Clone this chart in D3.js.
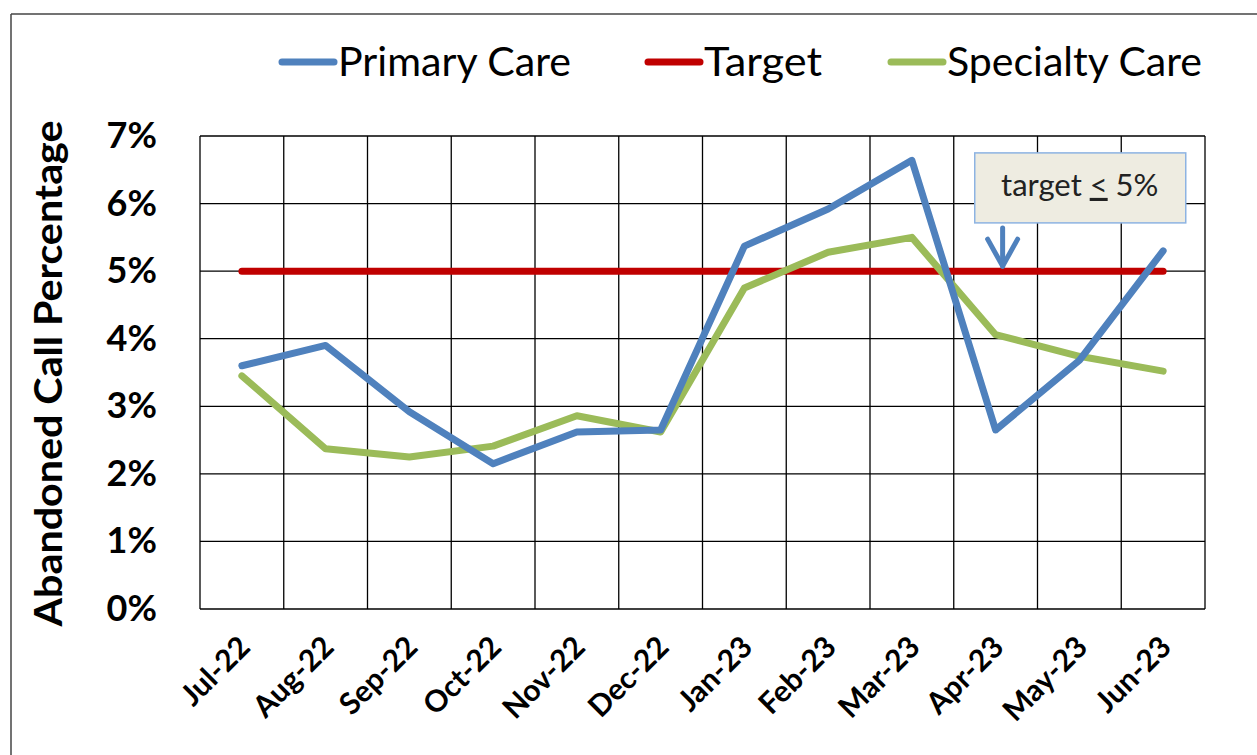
<!DOCTYPE html>
<html>
<head>
<meta charset="utf-8">
<script src="https://cdn.jsdelivr.net/npm/d3@7"></script>
<style>
  body { margin: 0; background: #fff; }
  svg { display: block; font-family: Lato, "Open Sans", sans-serif; }
</style>
</head>
<body>
<div id="chart"></div>
<script>
var months = ["Jul-22", "Aug-22", "Sep-22", "Oct-22", "Nov-22", "Dec-22",
              "Jan-23", "Feb-23", "Mar-23", "Apr-23", "May-23", "Jun-23"];
var primaryCare = [3.6, 3.9, 2.92, 2.15, 2.62, 2.65, 5.37, 5.92, 6.64, 2.65, 3.68, 5.3];
var specialtyCare = [3.45, 2.37, 2.25, 2.41, 2.86, 2.62, 4.75, 5.28, 5.5, 4.06, 3.74, 3.52];
var target = [5, 5, 5, 5, 5, 5, 5, 5, 5, 5, 5, 5];
var yTicks = [0, 1, 2, 3, 4, 5, 6, 7];

var W = 1257, H = 755;
var margin = {left: 200, top: 136, right: 52, bottom: 146};

var svg = d3.select("#chart").append("svg")
    .attr("width", W)
    .attr("height", H);

// outer chart frame (only top and left edges show)
svg.append("line").attr("x1", 11).attr("x2", W).attr("y1", 14).attr("y2", 14)
    .attr("stroke", "#444").attr("stroke-width", 1.5);
svg.append("line").attr("x1", 11).attr("x2", 11).attr("y1", 14).attr("y2", H)
    .attr("stroke", "#444").attr("stroke-width", 1.5);

var x = d3.scaleBand()
    .domain(months)
    .range([margin.left, W - margin.right]);
var y = d3.scaleLinear()
    .domain([0, 7])
    .range([H - margin.bottom, margin.top]);

var g = svg.append("g");

// grid
g.selectAll(".hgrid").data(yTicks).enter().append("line")
    .attr("x1", x.range()[0]).attr("x2", x.range()[1])
    .attr("y1", function (d) { return y(d); })
    .attr("y2", function (d) { return y(d); })
    .attr("stroke", "#000").attr("stroke-width", 1.3);
var vEdges = months.map(function (m) { return x(m); }).concat([x.range()[1]]);
g.selectAll(".vgrid").data(vEdges).enter().append("line")
    .attr("x1", function (d) { return d; }).attr("x2", function (d) { return d; })
    .attr("y1", y(0)).attr("y2", y(7))
    .attr("stroke", "#000").attr("stroke-width", 1.3);

// y axis labels
var yAxis = d3.axisLeft(y).tickValues(yTicks).tickSize(0).tickPadding(43)
    .tickFormat(function (d) { return d + "%"; });
var yg = svg.append("g").attr("transform", "translate(" + margin.left + ",0)").call(yAxis);
yg.select(".domain").remove();
yg.selectAll("text")
    .attr("font-family", "Lato, sans-serif")
    .attr("font-size", 36).attr("font-weight", "bold").attr("fill", "#000");

// x axis labels
var xg = svg.append("g");
xg.selectAll("text").data(months).enter().append("text")
    .attr("transform", function (d) {
        return "translate(" + (x(d) + x.bandwidth() / 2 + 10) + "," + (y(0) + 40) + ") rotate(-45)";
    })
    .attr("text-anchor", "end")
    .attr("font-size", 30).attr("font-weight", "bold")
    .text(function (d) { return d; });

// y title
svg.append("text")
    .attr("transform", "translate(62," + (y(3.5) + 1) + ") rotate(-90)")
    .attr("text-anchor", "middle")
    .attr("font-size", 38).attr("font-weight", "bold")
    .attr("textLength", 506).attr("lengthAdjust", "spacingAndGlyphs")
    .text("Abandoned Call Percentage");

// lines
var line = d3.line()
    .x(function (d, i) { return x(months[i]) + x.bandwidth() / 2; })
    .y(function (d) { return y(d); });

var series = [
    {name: "Primary Care", values: primaryCare, color: "#4F81BD"},
    {name: "Target", values: target, color: "#C00000"},
    {name: "Specialty Care", values: specialtyCare, color: "#9BBB59"}
];
var drawOrder = [series[1], series[2], series[0]];
drawOrder.forEach(function (s) {
    svg.append("path")
        .datum(s.values)
        .attr("d", line)
        .attr("fill", "none")
        .attr("stroke", s.color)
        .attr("stroke-width", 7)
        .attr("stroke-linejoin", "round")
        .attr("stroke-linecap", "round");
});

// legend
var legendX = [282, 648, 891];
var legendW = [233, 118, 255];
var lg = svg.append("g");
series.forEach(function (s, i) {
    lg.append("line")
        .attr("x1", legendX[i]).attr("x2", legendX[i] + 52)
        .attr("y1", 62).attr("y2", 62)
        .attr("stroke", s.color).attr("stroke-width", 7)
        .attr("stroke-linecap", "round");
    lg.append("text")
        .attr("x", legendX[i] + 56).attr("y", 76)
        .attr("font-size", 40)
        .attr("textLength", legendW[i]).attr("lengthAdjust", "spacingAndGlyphs")
        .text(s.name);
});

// annotation
var ax = x("Apr-23") + x.bandwidth() / 2 + 7;
var boxLeft = x("Apr-23") + 21, boxTop = y(6.75);
svg.append("rect")
    .attr("x", boxLeft).attr("y", boxTop)
    .attr("width", 211).attr("height", 70)
    .attr("fill", "#EEECE1").attr("stroke", "#8DB3E2").attr("stroke-width", 1.5);
var at = svg.append("text")
    .attr("x", boxLeft + 105).attr("y", boxTop + 43)
    .attr("text-anchor", "middle")
    .attr("font-size", 31).attr("fill", "#222");
at.append("tspan").text("target ");
at.append("tspan").attr("text-decoration", "underline").text("<");
at.append("tspan").text(" 5%");

svg.append("line")
    .attr("x1", ax).attr("x2", ax)
    .attr("y1", boxTop + 75).attr("y2", y(5) - 5)
    .attr("stroke", "#4F81BD").attr("stroke-width", 5).attr("stroke-linecap", "round");
svg.append("path")
    .attr("d", "M" + (ax - 15) + "," + (y(5) - 32) + " L" + ax + "," + (y(5) - 5) + " L" + (ax + 15) + "," + (y(5) - 32))
    .attr("fill", "none")
    .attr("stroke", "#4F81BD").attr("stroke-width", 5)
    .attr("stroke-linecap", "round").attr("stroke-linejoin", "round");
</script>
</body>
</html>
